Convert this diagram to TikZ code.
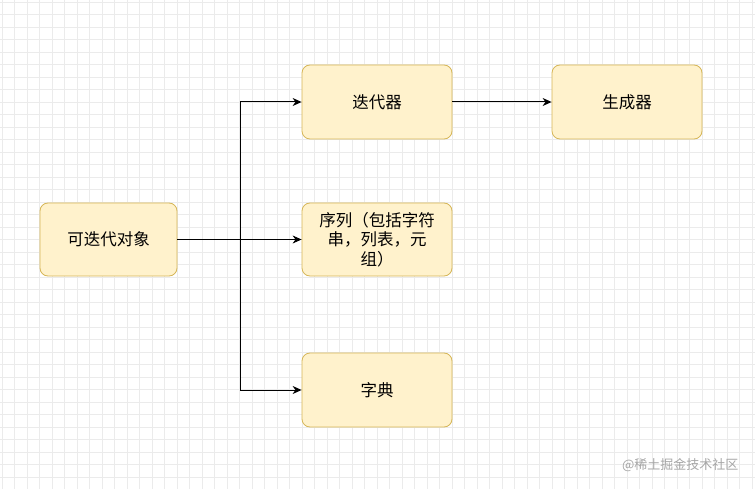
\documentclass[tikz,border=0pt]{standalone}
\usepackage{fontspec}
\newfontfamily\cjk{Noto Sans CJK SC}
\usetikzlibrary{arrows.meta}
\definecolor{bx}{HTML}{FFF2CC}
\definecolor{bd}{HTML}{D6B656}
\definecolor{gm}{HTML}{EBEBEB}
\begin{document}
\begin{tikzpicture}[x=1pt,y=-1pt,
  box/.style={draw=bd,fill=bx,rounded corners=8pt,line width=0.8pt,align=center,font=\cjk\fontsize{16.5}{19.5}\selectfont,inner sep=1pt},
  arr/.style={-{Stealth[length=9pt,width=8pt]},line width=1pt}]
\useasboundingbox (0,0) rectangle (755,489);
\fill[white] (0,0) rectangle (755,489);
\foreach \i in {0,...,60} \draw[gm,line width=0.6pt] (\i*12.5+2,0) -- (\i*12.5+2,489);
\foreach \j in {0,...,39} \draw[gm,line width=0.6pt] (0,\j*12.5+2) -- (755,\j*12.5+2);
\node[box,minimum width=137pt,minimum height=73pt] (a) at (108.5,239.5) {可迭代对象};
\node[box,minimum width=150pt,minimum height=74pt] (b) at (377,102) {迭代器};
\node[box,minimum width=150pt,minimum height=74pt] (c) at (627,102) {生成器};
\node[box,minimum width=150pt,minimum height=73pt] (d) at (377,239.5) {序列（包括字符\\串，列表，元\\组）};
\node[box,minimum width=150pt,minimum height=74pt] (e) at (377,390) {字典};
\coordinate (t) at (240,239.5);
\draw[arr] (a.east) -- (t) |- (b.west);
\draw[arr] (a.east) -- (d.west);
\draw[arr] (t) |- (e.west);
\draw[arr] (b.east) -- (c.west);
\node[text=gray!70,font=\cjk\fontsize{13}{15}\selectfont,anchor=east] (w) at (742,465) {@稀土掘金技术社区};
\end{tikzpicture}
\end{document}
